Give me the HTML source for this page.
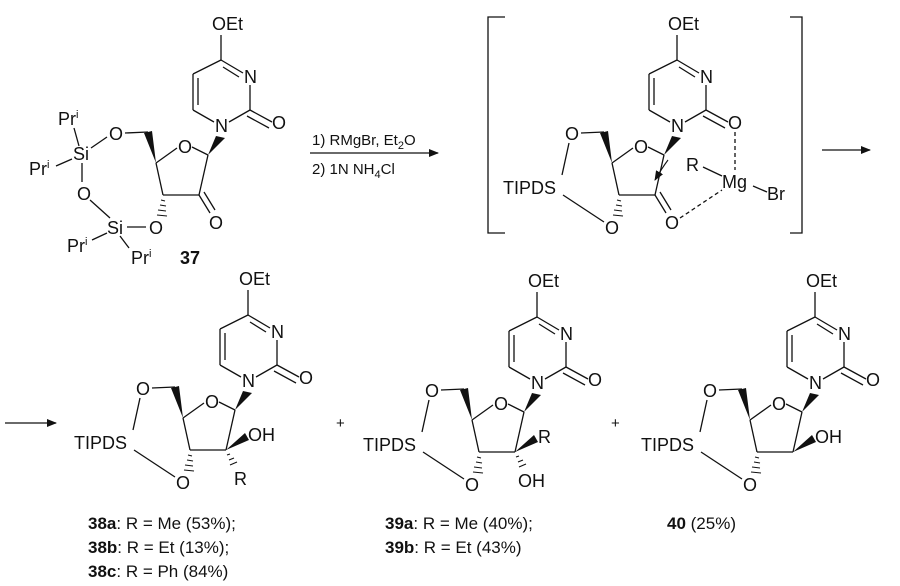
<!DOCTYPE html>
<html><head><meta charset="utf-8"><style>
html,body{margin:0;padding:0;background:#fff;}
svg{display:block;}
text{font-family:"Liberation Sans",sans-serif;font-size:18px;fill:#111;}
.b{font-weight:bold;}
</style></head><body>
<svg width="900" height="586" viewBox="0 0 900 586" xmlns="http://www.w3.org/2000/svg">
<defs>
<marker id="ah" markerWidth="10" markerHeight="8" refX="9" refY="4" orient="auto" markerUnits="userSpaceOnUse"><path d="M0,0 L10,4 L0,8 z" fill="#111"/></marker>
</defs>
<g stroke="#111" stroke-width="1.3" fill="none">

<!-- ===== 37 (translate -27,-255) ===== -->
<g transform="translate(-27,-255)">
 <line x1="248" y1="315" x2="248" y2="290"/>
 <line x1="248" y1="315" x2="270" y2="328"/><line x1="250" y1="322" x2="266" y2="332"/>
 <line x1="277" y1="340" x2="277" y2="365"/>
 <line x1="277" y1="365" x2="299" y2="377"/><line x1="274" y1="371" x2="296" y2="383"/>
 <line x1="277" y1="365" x2="256" y2="377"/>
 <line x1="241" y1="377" x2="220" y2="365"/>
 <line x1="220" y1="365" x2="220" y2="329"/><line x1="225" y1="360" x2="225" y2="333"/>
 <line x1="220" y1="329" x2="248" y2="315"/>
 <polygon points="243,391 252,393 235,410" fill="#111" stroke="none"/>
 <line x1="235" y1="410" x2="219" y2="402"/>
 <line x1="204" y1="403" x2="183" y2="418"/>
 <line x1="183" y1="418" x2="190" y2="450"/>
 <line x1="190" y1="450" x2="226" y2="450"/>
 <line x1="226" y1="450" x2="235" y2="410"/>
 <polygon points="183,418 171,388 179,386" fill="#111" stroke="none"/>
 <line x1="175" y1="387" x2="152" y2="388"/>
 <g stroke-width="1.1"><line x1="188" y1="455" x2="192" y2="456"/><line x1="187" y1="460" x2="193" y2="461"/><line x1="185" y1="465" x2="193" y2="466"/><line x1="184" y1="470" x2="194" y2="471"/></g>
 <line x1="226" y1="450" x2="237" y2="468"/><line x1="231" y1="447" x2="242" y2="465"/>
</g>
<line x1="107" y1="137" x2="91" y2="148"/>
<line x1="79" y1="146" x2="74" y2="128"/>
<line x1="56" y1="166" x2="72" y2="159"/>
<line x1="82" y1="163" x2="82" y2="182"/>
<line x1="90" y1="200" x2="110" y2="218"/>
<line x1="127" y1="227" x2="146" y2="227"/>
<line x1="107" y1="233" x2="92" y2="240"/>
<line x1="120" y1="236" x2="129" y2="248"/>

<!-- arrow 1 -->
<line x1="310" y1="153" x2="438" y2="153" marker-end="url(#ah)"/>

<!-- ===== intermediate (translate 429,-255) ===== -->
<g transform="translate(429,-255)">
 <line x1="248" y1="315" x2="248" y2="290"/>
 <line x1="248" y1="315" x2="270" y2="328"/><line x1="250" y1="322" x2="266" y2="332"/>
 <line x1="277" y1="340" x2="277" y2="365"/>
 <line x1="277" y1="365" x2="299" y2="377"/><line x1="274" y1="371" x2="296" y2="383"/>
 <line x1="277" y1="365" x2="256" y2="377"/>
 <line x1="241" y1="377" x2="220" y2="365"/>
 <line x1="220" y1="365" x2="220" y2="329"/><line x1="225" y1="360" x2="225" y2="333"/>
 <line x1="220" y1="329" x2="248" y2="315"/>
 <polygon points="243,391 252,393 235,410" fill="#111" stroke="none"/>
 <line x1="235" y1="410" x2="219" y2="402"/>
 <line x1="204" y1="403" x2="183" y2="418"/>
 <line x1="183" y1="418" x2="190" y2="450"/>
 <line x1="190" y1="450" x2="226" y2="450"/>
 <line x1="226" y1="450" x2="235" y2="410"/>
 <polygon points="183,418 171,388 179,386" fill="#111" stroke="none"/>
 <line x1="175" y1="387" x2="152" y2="388"/>
 <line x1="140" y1="398" x2="133" y2="430"/>
 <line x1="134" y1="450" x2="175" y2="477"/>
 <g stroke-width="1.1"><line x1="188" y1="455" x2="192" y2="456"/><line x1="187" y1="460" x2="193" y2="461"/><line x1="185" y1="465" x2="193" y2="466"/><line x1="184" y1="470" x2="194" y2="471"/></g>
 <line x1="226" y1="450" x2="237" y2="468"/><line x1="231" y1="447" x2="242" y2="465"/>
</g>
<line x1="735" y1="132" x2="735" y2="170" stroke-dasharray="4,3"/>
<line x1="680" y1="218" x2="722" y2="190" stroke-dasharray="4,3"/>
<line x1="703" y1="167" x2="722" y2="176"/>
<line x1="753" y1="186" x2="767" y2="192"/>
<path d="M668,160 Q662,168 655,180" marker-end="url(#ah)" stroke-width="1.1"/>
<!-- brackets -->
<polyline points="505,17 488,17 488,233 505,233"/>
<polyline points="790,17 802,17 802,233 790,233"/>
<!-- arrow 2 -->
<line x1="822" y1="150" x2="870" y2="150" marker-end="url(#ah)"/>
<!-- arrow 3 -->
<line x1="5" y1="423" x2="56" y2="423" marker-end="url(#ah)"/>

<!-- ===== 38 ===== -->
<g>
 <line x1="248" y1="315" x2="248" y2="290"/>
 <line x1="248" y1="315" x2="270" y2="328"/><line x1="250" y1="322" x2="266" y2="332"/>
 <line x1="277" y1="340" x2="277" y2="365"/>
 <line x1="277" y1="365" x2="299" y2="377"/><line x1="274" y1="371" x2="296" y2="383"/>
 <line x1="277" y1="365" x2="256" y2="377"/>
 <line x1="241" y1="377" x2="220" y2="365"/>
 <line x1="220" y1="365" x2="220" y2="329"/><line x1="225" y1="360" x2="225" y2="333"/>
 <line x1="220" y1="329" x2="248" y2="315"/>
 <polygon points="243,391 252,393 235,410" fill="#111" stroke="none"/>
 <line x1="235" y1="410" x2="219" y2="402"/>
 <line x1="204" y1="403" x2="183" y2="418"/>
 <line x1="183" y1="418" x2="190" y2="450"/>
 <line x1="190" y1="450" x2="226" y2="450"/>
 <line x1="226" y1="450" x2="235" y2="410"/>
 <polygon points="183,418 171,388 179,386" fill="#111" stroke="none"/>
 <line x1="175" y1="387" x2="152" y2="388"/>
 <line x1="140" y1="398" x2="133" y2="430"/>
 <line x1="134" y1="450" x2="175" y2="477"/>
 <g stroke-width="1.1"><line x1="188" y1="455" x2="192" y2="456"/><line x1="187" y1="460" x2="193" y2="461"/><line x1="185" y1="465" x2="193" y2="466"/><line x1="184" y1="470" x2="194" y2="471"/></g>
 <polygon points="226,450 245,433 249,440" fill="#111" stroke="none"/>
 <g stroke-width="1.1"><line x1="227" y1="455" x2="230" y2="454"/><line x1="229" y1="460" x2="234" y2="458"/><line x1="230" y1="465" x2="237" y2="462"/></g>
</g>

<!-- ===== 39 ===== -->
<g transform="translate(289,2)">
 <line x1="248" y1="315" x2="248" y2="290"/>
 <line x1="248" y1="315" x2="270" y2="328"/><line x1="250" y1="322" x2="266" y2="332"/>
 <line x1="277" y1="340" x2="277" y2="365"/>
 <line x1="277" y1="365" x2="299" y2="377"/><line x1="274" y1="371" x2="296" y2="383"/>
 <line x1="277" y1="365" x2="256" y2="377"/>
 <line x1="241" y1="377" x2="220" y2="365"/>
 <line x1="220" y1="365" x2="220" y2="329"/><line x1="225" y1="360" x2="225" y2="333"/>
 <line x1="220" y1="329" x2="248" y2="315"/>
 <polygon points="243,391 252,393 235,410" fill="#111" stroke="none"/>
 <line x1="235" y1="410" x2="219" y2="402"/>
 <line x1="204" y1="403" x2="183" y2="418"/>
 <line x1="183" y1="418" x2="190" y2="450"/>
 <line x1="190" y1="450" x2="226" y2="450"/>
 <line x1="226" y1="450" x2="235" y2="410"/>
 <polygon points="183,418 171,388 179,386" fill="#111" stroke="none"/>
 <line x1="175" y1="387" x2="152" y2="388"/>
 <line x1="140" y1="398" x2="133" y2="430"/>
 <line x1="134" y1="450" x2="175" y2="477"/>
 <g stroke-width="1.1"><line x1="188" y1="455" x2="192" y2="456"/><line x1="187" y1="460" x2="193" y2="461"/><line x1="185" y1="465" x2="193" y2="466"/><line x1="184" y1="470" x2="194" y2="471"/></g>
 <polygon points="226,450 245,433 249,440" fill="#111" stroke="none"/>
 <g stroke-width="1.1"><line x1="227" y1="455" x2="230" y2="454"/><line x1="229" y1="460" x2="234" y2="458"/><line x1="230" y1="465" x2="237" y2="462"/></g>
</g>

<!-- ===== 40 ===== -->
<g transform="translate(567,2)">
 <line x1="248" y1="315" x2="248" y2="290"/>
 <line x1="248" y1="315" x2="270" y2="328"/><line x1="250" y1="322" x2="266" y2="332"/>
 <line x1="277" y1="340" x2="277" y2="365"/>
 <line x1="277" y1="365" x2="299" y2="377"/><line x1="274" y1="371" x2="296" y2="383"/>
 <line x1="277" y1="365" x2="256" y2="377"/>
 <line x1="241" y1="377" x2="220" y2="365"/>
 <line x1="220" y1="365" x2="220" y2="329"/><line x1="225" y1="360" x2="225" y2="333"/>
 <line x1="220" y1="329" x2="248" y2="315"/>
 <polygon points="243,391 252,393 235,410" fill="#111" stroke="none"/>
 <line x1="235" y1="410" x2="219" y2="402"/>
 <line x1="204" y1="403" x2="183" y2="418"/>
 <line x1="183" y1="418" x2="190" y2="450"/>
 <line x1="190" y1="450" x2="226" y2="450"/>
 <line x1="226" y1="450" x2="235" y2="410"/>
 <polygon points="183,418 171,388 179,386" fill="#111" stroke="none"/>
 <line x1="175" y1="387" x2="152" y2="388"/>
 <line x1="140" y1="398" x2="133" y2="430"/>
 <line x1="134" y1="450" x2="175" y2="477"/>
 <g stroke-width="1.1"><line x1="188" y1="455" x2="192" y2="456"/><line x1="187" y1="460" x2="193" y2="461"/><line x1="185" y1="465" x2="193" y2="466"/><line x1="184" y1="470" x2="194" y2="471"/></g>
 <polygon points="226,450 245,433 249,440" fill="#111" stroke="none"/>
</g>
</g>

<!-- ===== TEXT ===== -->
<g transform="translate(-27,-255)">
 <text x="239" y="285">OEt</text>
 <text x="271" y="338">N</text>
 <text x="299" y="384">O</text>
 <text x="242" y="387">N</text>
 <text x="205" y="408">O</text>
 <text x="236" y="484">O</text>
</g>
<text x="109" y="140">O</text>
<text x="73" y="160">Si</text>
<text x="58" y="125">Pr<tspan font-size="11" dy="-7">i</tspan></text>
<text x="29" y="175">Pr<tspan font-size="11" dy="-7">i</tspan></text>
<text x="77" y="200">O</text>
<text x="107" y="234">Si</text>
<text x="149" y="234">O</text>
<text x="67" y="252">Pr<tspan font-size="11" dy="-7">i</tspan></text>
<text x="131" y="264">Pr<tspan font-size="11" dy="-7">i</tspan></text>
<text x="180" y="264" class="b">37</text>
<text x="312" y="145" style="font-size:15px">1) RMgBr, Et<tspan font-size="11" dy="4">2</tspan><tspan dy="-4">O</tspan></text>
<text x="312" y="174" style="font-size:15px">2) 1N NH<tspan font-size="11" dy="4">4</tspan><tspan dy="-4">Cl</tspan></text>
<g transform="translate(429,-255)">
 <text x="239" y="285">OEt</text>
 <text x="271" y="338">N</text>
 <text x="299" y="384">O</text>
 <text x="242" y="387">N</text>
 <text x="205" y="408">O</text>
 <text x="136" y="395">O</text>
 <text x="74" y="449">TIPDS</text>
 <text x="176" y="489">O</text>
 <text x="236" y="484">O</text>
</g>
<text x="686" y="171">R</text>
<text x="722" y="188">Mg</text>
<text x="767" y="200">Br</text>
<text x="239" y="285">OEt</text>
<text x="271" y="338">N</text>
<text x="299" y="384">O</text>
<text x="242" y="387">N</text>
<text x="205" y="408">O</text>
<text x="136" y="395">O</text>
<text x="74" y="449">TIPDS</text>
<text x="176" y="489">O</text>
<text x="248" y="441">OH</text>
<text x="234" y="485">R</text>
<g transform="translate(289,2)">
 <text x="239" y="285">OEt</text>
 <text x="271" y="338">N</text>
 <text x="299" y="384">O</text>
 <text x="242" y="387">N</text>
 <text x="205" y="408">O</text>
 <text x="136" y="395">O</text>
 <text x="74" y="449">TIPDS</text>
 <text x="176" y="489">O</text>
 <text x="249" y="441">R</text>
 <text x="229" y="485">OH</text>
</g>
<g transform="translate(567,2)">
 <text x="239" y="285">OEt</text>
 <text x="271" y="338">N</text>
 <text x="299" y="384">O</text>
 <text x="242" y="387">N</text>
 <text x="205" y="408">O</text>
 <text x="136" y="395">O</text>
 <text x="74" y="449">TIPDS</text>
 <text x="176" y="489">O</text>
 <text x="248" y="441">OH</text>
</g>
<text x="336" y="428" style="font-size:15px">+</text>
<text x="611" y="428" style="font-size:15px">+</text>
<text x="88" y="529" style="font-size:17px"><tspan class="b">38a</tspan>: R = Me (53%);</text>
<text x="88" y="553" style="font-size:17px"><tspan class="b">38b</tspan>: R = Et (13%);</text>
<text x="88" y="577" style="font-size:17px"><tspan class="b">38c</tspan>: R = Ph (84%)</text>
<text x="385" y="529" style="font-size:17px"><tspan class="b">39a</tspan>: R = Me (40%);</text>
<text x="385" y="553" style="font-size:17px"><tspan class="b">39b</tspan>: R = Et (43%)</text>
<text x="667" y="529" style="font-size:17px"><tspan class="b">40</tspan> (25%)</text>
</svg>
</body></html>
